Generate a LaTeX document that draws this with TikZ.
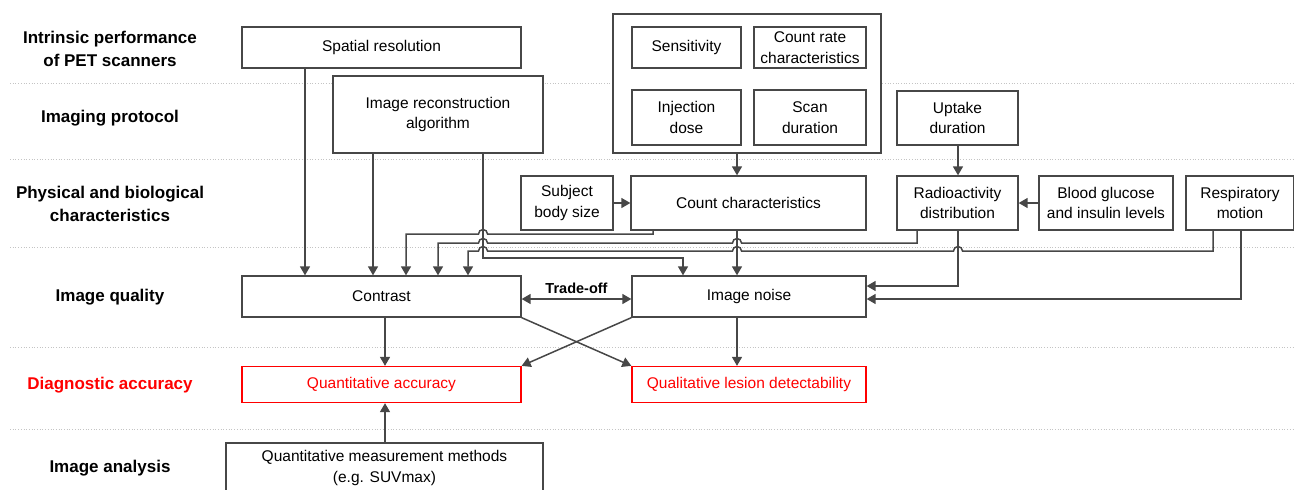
\documentclass[tikz,border=0pt]{standalone}
\usepackage{fontspec}
\setmainfont{Liberation Sans}
\usetikzlibrary{arrows.meta,calc}
\definecolor{ln}{HTML}{474747}
\definecolor{sepc}{HTML}{C4C4C4}
\definecolor{acc}{HTML}{FF0000}
\tikzset{bx/.append style={draw=ln,fill=white,line width=1.3pt,align=center,inner sep=0pt,font=\fontsize{15.5}{20.5}\selectfont}}
\tikzset{rd/.append style={draw=acc,text=acc}}
\tikzset{lb/.append style={align=center,font=\fontsize{17}{23}\selectfont\bfseries}}
\tikzset{ar/.append style={draw=ln,line width=1.5pt,-{Triangle[length=9pt,width=10pt]}}}
\tikzset{sp/.append style={draw=sepc,line width=0.7pt,dotted}}

\begin{document}
\begin{tikzpicture}[x=1pt,y=-1pt]
                \useasboundingbox (0,0) rectangle (1294,490);
                % row separators
                \draw[sp] (10,83) -- (1294,83);
                \draw[sp] (10,159) -- (1294,159);
                \draw[sp] (10,247) -- (1294,247);
                \draw[sp] (10,347) -- (1294,347);
                \draw[sp] (10,429) -- (1294,429);
                % row labels
                \node[lb] (l1) at (110,48.5) {Intrinsic performance\\of PET scanners};
                \node[lb] (l2) at (110,118) {Imaging protocol};
                \node[lb] (l3) at (110,203.5) {Physical and biological\\characteristics};
                \node[lb] (l4) at (110,297) {Image quality};
                \node[lb,text=acc] (l5) at (110,385) {Diagnostic accuracy};
                \node[lb] (l6) at (110,468) {Image analysis};
                % boxes
                \node[bx,minimum width=279,minimum height=41] (spat) at (381.5,47.5) {Spatial resolution};
                \node[bx,minimum width=268,minimum height=139] (grp) at (747,83.5) {};
                \node[bx,minimum width=109,minimum height=41] (sens) at (686.5,47.5) {Sensitivity};
                \node[bx,minimum width=112,minimum height=41] (crate) at (810,47.5) {Count rate\\characteristics};
                \node[bx,minimum width=109,minimum height=55] (inj) at (686.5,117.5) {Injection\\dose};
                \node[bx,minimum width=112,minimum height=55] (scan) at (810,117.5) {Scan\\duration};
                \node[bx,minimum width=210,minimum height=77] (recon) at (438,114.5) {Image reconstruction\\algorithm};
                \node[bx,minimum width=121,minimum height=54] (upt) at (957.5,118) {Uptake\\duration};
                \node[bx,minimum width=92,minimum height=54] (body) at (567,203) {Subject\\body size};
                \node[bx,minimum width=235,minimum height=54] (cnt) at (748.5,203) {Count characteristics};
                \node[bx,minimum width=121,minimum height=54] (radio) at (957.5,203) {Radioactivity\\distribution};
                \node[bx,minimum width=134,minimum height=54] (blood) at (1106,203) {Blood glucose\\and insulin levels};
                \node[bx,minimum width=108,minimum height=54] (resp) at (1240,203) {Respiratory\\motion};
                \node[bx,minimum width=279,minimum height=41] (con) at (381.5,296.5) {Contrast};
                \node[bx,minimum width=234,minimum height=41] (noi) at (749,296.5) {Image noise};
                \node[bx,rd,minimum width=279,minimum height=36] (quant) at (381.5,384.5) {Quantitative accuracy};
                \node[bx,rd,minimum width=234,minimum height=36] (qual) at (749,384.5) {Qualitative lesion detectability};
                \node[bx,minimum width=317,minimum height=50] (meas) at (384.5,468) {Quantitative measurement methods\\(e.g. SUVmax)};
                % arrows
                \draw[ar] (spat.south -| 305,0) -- (con.north -| 305,0);
                \draw[ar] (recon.south -| 373,0) -- (con.north -| 373,0);
                \draw[ar] (grp.south -| 737,0) -- (cnt.north -| 737,0);
                \draw[ar] (upt.south -| 958,0) -- (radio.north -| 958,0);
                \draw[ar] (body.east) -- (cnt.west);
                \draw[ar] (blood.west) -- (radio.east);
                \draw[ar] (cnt.south -| 737,0) -- (noi.north -| 737,0);
                \draw[ar] (recon.south -| 483,0) -- (483,258) -| (noi.north -| 683,0);
                \draw[ar] (cnt.south -| 653,0) -- (653,234) -- (487.5,234) arc[start angle=0,end angle=180,radius=4.5pt]
                    -- (406,234) -- (con.north -| 406,0);
                \draw[ar] (radio.south -| 917,0) -- (917,243) -- (741.5,243) arc[start angle=0,end angle=180,radius=4.5pt]
                    -- (487.5,243) arc[start angle=0,end angle=180,radius=4.5pt] -- (438,243) -- (con.north -| 438,0);
                \draw[ar] (resp.south -| 1213,0) -- (1213,251) -- (962.5,251) arc[start angle=0,end angle=180,radius=4.5pt]
                    -- (741.5,251) arc[start angle=0,end angle=180,radius=4.5pt]
                    -- (487.5,251) arc[start angle=0,end angle=180,radius=4.5pt] -- (468,251) -- (con.north -| 468,0);
                \draw[ar] (radio.south -| 958,0) |- (noi.east |- 0,286);
                \draw[ar] (resp.south -| 1241,0) |- (noi.east |- 0,299);
                \draw[ar,{Triangle[length=9pt,width=10pt]}-{Triangle[length=9pt,width=10pt]}] (con.east |- 0,299) -- node[above=1pt,font=\fontsize{14.5}{17}\selectfont\bfseries]{Trade-off} (noi.west |- 0,299);
                \draw[ar] (con.south -| 385,0) -- (quant.north -| 385,0);
                \draw[ar] (noi.south -| 737,0) -- (qual.north -| 737,0);
                \draw[ar] (con.south east) -- (qual.north west);
                \draw[ar] (noi.south west) -- (quant.north east);
                \draw[ar] (meas.north -| 385,0) -- (quant.south -| 385,0);
            \end{tikzpicture}
\end{document}
